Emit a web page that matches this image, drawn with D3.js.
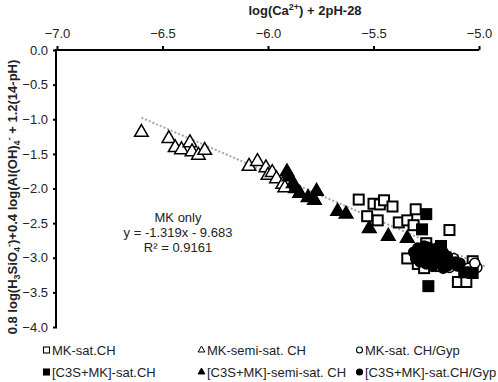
<!DOCTYPE html>
<html><head><meta charset="utf-8">
<script src="https://cdn.jsdelivr.net/npm/d3@7"></script>
<style>body{margin:0;background:#fff}svg{display:block;font-family:Arial,"Liberation Sans",sans-serif}</style>
</head><body><svg id="c" width="498" height="382"></svg>
<script>
// ---- data ----
const xTicks = [-7.0, -6.5, -6.0, -5.5, -5.0];
const yTicks = [0.0, -0.5, -1.0, -1.5, -2.0, -2.5, -3.0, -3.5, -4.0];
const mkSatCH = [[-5.57,-2.16],[-5.50,-2.22],[-5.47,-2.23],[-5.45,-2.17],[-5.41,-2.26],[-5.53,-2.40],[-5.48,-2.46],[-5.38,-2.49],[-5.34,-2.46],[-5.31,-2.53],[-5.30,-2.30],[-5.14,-2.60],[-5.25,-2.79],[-5.34,-3.01],[-5.29,-3.09],[-5.26,-3.15],[-5.10,-3.35],[-5.06,-3.35],[-5.20,-3.12],[-5.03,-3.05]];
const mkSemiSatCH = [[-6.60,-1.19],[-6.47,-1.28],[-6.44,-1.41],[-6.41,-1.44],[-6.37,-1.34],[-6.36,-1.47],[-6.33,-1.52],[-6.30,-1.45],[-6.09,-1.68],[-6.05,-1.61],[-6.01,-1.70],[-6.00,-1.81],[-5.98,-1.77],[-5.96,-1.86],[-5.93,-1.94],[-5.92,-1.99]];
const mkSatCHGyp = [[-5.12,-3.01],[-5.14,-3.14],[-5.03,-3.12],[-5.01,-3.14],[-5.05,-3.15],[-5.17,-3.11],[-5.02,-3.08]];
const c3sSatCH = [[-5.25,-2.37],[-5.27,-2.59],[-5.18,-2.85],[-5.24,-3.41],[-5.07,-3.21],[-5.03,-3.22],[-5.18,-2.83]];
const c3sSemiSatCH = [[-5.91,-1.76],[-5.90,-1.83],[-5.88,-1.93],[-5.87,-2.00],[-5.85,-2.07],[-5.81,-2.13],[-5.77,-2.04],[-5.78,-2.17],[-5.67,-2.33],[-5.63,-2.37],[-5.52,-2.58],[-5.43,-2.69],[-5.34,-2.72]];
const c3sSatCHGyp = [[-5.31,-2.92],[-5.29,-2.96],[-5.27,-2.89],[-5.26,-3.01],[-5.25,-2.94],[-5.23,-2.98],[-5.22,-2.89],[-5.21,-3.04],[-5.20,-2.95],[-5.18,-3.01],[-5.17,-2.92],[-5.16,-3.06],[-5.15,-2.98],[-5.14,-3.04],[-5.13,-3.09],[-5.11,-3.06],[-5.28,-3.06],[-5.25,-3.09],[-5.22,-3.12],[-5.19,-3.08],[-5.17,-3.15],[-5.15,-3.12],[-5.30,-3.01],[-5.24,-2.85],[-5.20,-2.86],[-5.10,-3.12],[-5.26,-2.83],[-5.09,-3.08],[-5.29,-2.86],[-5.23,-3.05]];
const fitSlope = -1.319, fitIntercept = -9.683, fitR2 = 0.9161;
const fitRange = [-6.60, -4.97];
const legendLabels = ["MK-sat.CH","MK-semi-sat. CH","MK-sat. CH/Gyp","[C3S+MK]-sat.CH","[C3S+MK]-semi-sat. CH","[C3S+MK]-sat.CH/Gyp"];

// ---- chart ----
const svg = d3.select("#c");
const x = d3.scaleLinear().domain([-7, -5]).range([57, 479]);
const y = d3.scaleLinear().domain([0, -4]).range([50, 327]);
const txt = "#222";

// trend line
const fit = d => fitSlope * d + fitIntercept;
svg.append("line")
  .attr("x1", x(fitRange[0])).attr("y1", y(fit(fitRange[0])))
  .attr("x2", x(fitRange[1])).attr("y2", y(fit(fitRange[1])))
  .attr("stroke", "#a6a6a6").attr("stroke-width", 2).attr("stroke-dasharray", "2,2");

// axes
const xa = svg.append("g").attr("transform", "translate(0,50)")
  .call(d3.axisTop(x).tickValues(xTicks).tickFormat(d3.format(".1f")).tickSize(4).tickPadding(8));
const ya = svg.append("g").attr("transform", "translate(57,0)")
  .call(d3.axisLeft(y).tickValues(yTicks).tickFormat(d3.format(".1f")).tickSize(4).tickPadding(5));
[xa, ya].forEach(g => {
  g.select(".domain").attr("stroke", "#000").attr("stroke-width", 2);
  g.selectAll(".tick line").attr("stroke", "#000").attr("stroke-width", 2);
  g.selectAll(".tick text").attr("font-size", 13).attr("fill", txt).attr("font-family", "Arial, Liberation Sans, sans-serif");
});
ya.select(".domain").attr("d", "M-1,49V327");
xa.select(".domain").attr("d", "M56,0H479");

// titles
const xt = svg.append("text").attr("x", 305).attr("y", 15).attr("text-anchor", "middle")
  .attr("font-size", 13).attr("font-weight", "bold").attr("fill", txt);
xt.append("tspan").text("log(Ca");
xt.append("tspan").attr("font-size", 9).attr("dy", -5).text("2+");
xt.append("tspan").attr("dy", 5).text(") + 2pH-28");

const yt = svg.append("text").attr("transform", "translate(17,197) rotate(-90)").attr("text-anchor", "middle")
  .attr("font-size", 13).attr("font-weight", "bold").attr("fill", txt);
yt.append("tspan").text("0.8 log(H");
yt.append("tspan").attr("font-size", 9).attr("dy", 3).text("3");
yt.append("tspan").attr("dy", -3).text("SiO");
yt.append("tspan").attr("font-size", 9).attr("dy", 3).text("4");
yt.append("tspan").attr("font-size", 9).attr("dy", -8).text("-");
yt.append("tspan").attr("dy", 5).text(")+0.4 log(Al(OH)");
yt.append("tspan").attr("font-size", 9).attr("dy", 3).text("4");
yt.append("tspan").attr("font-size", 9).attr("dy", -8).text("-");
yt.append("tspan").attr("dy", 5).text(" + 1.2(14-pH)");

// markers
const sqSize = 10, triSize = 80, cirR = 5;
const tri = d3.symbol().type(d3.symbolTriangle).size(triSize)();
function drawSquares(data, fill) {
  svg.append("g").selectAll("rect").data(data).join("rect")
    .attr("x", d => x(d[0]) - sqSize/2).attr("y", d => y(d[1]) - sqSize/2)
    .attr("width", sqSize).attr("height", sqSize)
    .attr("fill", fill).attr("stroke", "#000").attr("stroke-width", 2);
}
function drawTris(data, fill) {
  svg.append("g").selectAll("path").data(data).join("path")
    .attr("d", tri).attr("transform", d => `translate(${x(d[0])},${y(d[1])})`)
    .attr("fill", fill).attr("stroke", "#000").attr("stroke-width", 1.5);
}
function drawCircles(data, fill) {
  svg.append("g").selectAll("circle").data(data).join("circle")
    .attr("cx", d => x(d[0])).attr("cy", d => y(d[1])).attr("r", cirR)
    .attr("fill", fill).attr("stroke", "#000").attr("stroke-width", 1.5);
}
drawTris(mkSemiSatCH, "#fff");
drawTris(c3sSemiSatCH, "#000");
drawSquares(mkSatCH, "#fff");
drawCircles(mkSatCHGyp, "#fff");
drawCircles(c3sSatCHGyp, "#000");
drawSquares(c3sSatCH, "#000");

// annotation
const ann = ["MK only", `y = ${fitSlope}x - ${Math.abs(fitIntercept)}`, `R² = ${fitR2}`];
svg.append("g").selectAll("text").data(ann).join("text")
  .attr("x", 178).attr("y", (d, i) => 222 + i * 15).attr("text-anchor", "middle")
  .attr("font-size", 13).attr("fill", txt).text(d => d);

// legend
const legCols = [43, 198, 356], legRows = [350, 372];
const legShapes = ["sq", "tri", "cir"];
legendLabels.forEach((lab, i) => {
  const col = i % 3, row = Math.floor(i / 3);
  const cx = legCols[col] + 3.5, cy = legRows[row];
  const fill = row === 0 ? "#fff" : "#000";
  const g = svg.append("g");
  if (legShapes[col] === "sq") g.append("rect").attr("x", cx - 3).attr("y", cy - 3).attr("width", 6).attr("height", 6).attr("fill", fill).attr("stroke", "#000").attr("stroke-width", 1.1);
  if (legShapes[col] === "tri") g.append("path").attr("d", d3.symbol().type(d3.symbolTriangle).size(20)()).attr("transform", `translate(${cx},${cy})`).attr("fill", fill).attr("stroke", "#000").attr("stroke-width", 1);
  if (legShapes[col] === "cir") g.append("circle").attr("cx", cx).attr("cy", cy).attr("r", 3).attr("fill", fill).attr("stroke", "#000").attr("stroke-width", 1.1);
  g.append("text").attr("x", legCols[col] + 9).attr("y", cy + 5).attr("font-size", 13).attr("fill", txt).text(lab);
});
</script></body></html>
